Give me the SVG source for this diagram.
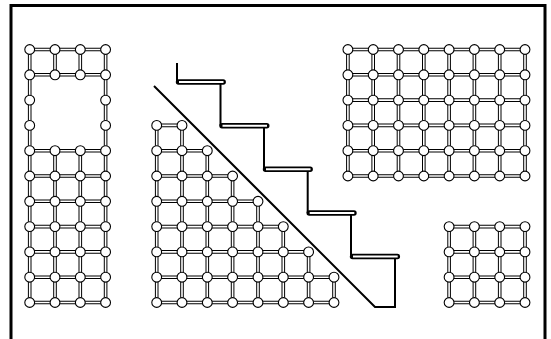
<svg xmlns="http://www.w3.org/2000/svg" width="551" height="339" viewBox="0 0 551 339">
<style>
.o{fill:none;stroke:#000;stroke-width:3.6}
.i{fill:none;stroke:#fff;stroke-width:1.6}
.f{fill:none;stroke:#000;stroke-width:3}
.s{fill:none;stroke:#000;stroke-width:2}
.t{fill:none;stroke:#000;stroke-width:5.4;stroke-linecap:round}
.u{fill:none;stroke:#fff;stroke-width:2}
circle{r:4.9px;fill:#fff;stroke:#000;stroke-width:1.1}
</style>
<defs>
<path id="e1" d="M29.7 49.5H105.6M29.7 74.8H105.6M29.7 150.7H105.6M29.7 176H105.6M29.7 201.3H105.6M29.7 226.6H105.6M29.7 251.9H105.6M29.7 277.2H105.6M29.7 302.5H105.6M29.7 49.5V302.5M105.6 49.5V302.5M55 49.5V74.8M80.3 49.5V74.8M55 150.7V302.5M80.3 150.7V302.5"/>
<path id="e2" d="M156.7 125.4H182M156.7 150.7H207.3M156.7 176H232.6M156.7 201.3H258M156.7 226.6H283.3M156.7 251.9H308.6M156.7 277.2H334M156.7 302.5H334M156.7 125.4V302.5M182 125.4V302.5M207.3 150.7V302.5M232.6 176V302.5M258 201.3V302.5M283.3 226.6V302.5M308.6 251.9V302.5M334 277.2V302.5"/>
<path id="e3" d="M347.9 49.5H525M347.9 74.8H525M347.9 100.1H525M347.9 125.4H525M347.9 150.7H525M347.9 176H525M347.9 49.5V176M373.2 49.5V176M398.5 49.5V176M423.8 49.5V176M449.1 49.5V176M474.4 49.5V176M499.7 49.5V176M525 49.5V176"/>
<path id="e4" d="M449.1 226.6H525M449.1 251.9H525M449.1 277.2H525M449.1 302.5H525M449.1 226.6V302.5M474.4 226.6V302.5M499.7 226.6V302.5M525 226.6V302.5"/>
<g id="r4a"><circle cx="29.7"/><circle cx="55"/><circle cx="80.3"/><circle cx="105.6"/></g>
<g id="r4b"><circle cx="449.1"/><circle cx="474.4"/><circle cx="499.7"/><circle cx="525"/></g>
<g id="r8"><circle cx="347.9"/><circle cx="373.2"/><circle cx="398.5"/><circle cx="423.8"/><circle cx="449.1"/><circle cx="474.4"/><circle cx="499.7"/><circle cx="525"/></g>
</defs>
<g id="frame"><path class="f" d="M11 339V5.5H545V339"/></g>
<g id="connectors">
<use href="#e1" class="o"/><use href="#e1" class="i"/>
<use href="#e2" class="o"/><use href="#e2" class="i"/>
<use href="#e3" class="o"/><use href="#e3" class="i"/>
<use href="#e4" class="o"/><use href="#e4" class="i"/>
</g>
<g id="block-left">
<use href="#r4a" y="49.5"/><use href="#r4a" y="74.8"/>
<circle cx="29.7" cy="100.1"/><circle cx="105.6" cy="100.1"/><circle cx="29.7" cy="125.4"/><circle cx="105.6" cy="125.4"/>
<use href="#r4a" y="150.7"/><use href="#r4a" y="176"/><use href="#r4a" y="201.3"/><use href="#r4a" y="226.6"/><use href="#r4a" y="251.9"/><use href="#r4a" y="277.2"/><use href="#r4a" y="302.5"/>
</g>
<g id="block-stair">
<g transform="translate(0 125.4)"><circle cx="156.7"/><circle cx="182"/></g>
<g transform="translate(0 150.7)"><circle cx="156.7"/><circle cx="182"/><circle cx="207.3"/></g>
<g transform="translate(0 176)"><circle cx="156.7"/><circle cx="182"/><circle cx="207.3"/><circle cx="232.6"/></g>
<g transform="translate(0 201.3)"><circle cx="156.7"/><circle cx="182"/><circle cx="207.3"/><circle cx="232.6"/><circle cx="258"/></g>
<g transform="translate(0 226.6)"><circle cx="156.7"/><circle cx="182"/><circle cx="207.3"/><circle cx="232.6"/><circle cx="258"/><circle cx="283.3"/></g>
<g transform="translate(0 251.9)"><circle cx="156.7"/><circle cx="182"/><circle cx="207.3"/><circle cx="232.6"/><circle cx="258"/><circle cx="283.3"/><circle cx="308.6"/></g>
<g transform="translate(0 277.2)"><circle cx="156.7"/><circle cx="182"/><circle cx="207.3"/><circle cx="232.6"/><circle cx="258"/><circle cx="283.3"/><circle cx="308.6"/><circle cx="334"/></g>
<g transform="translate(0 302.5)"><circle cx="156.7"/><circle cx="182"/><circle cx="207.3"/><circle cx="232.6"/><circle cx="258"/><circle cx="283.3"/><circle cx="308.6"/><circle cx="334"/></g>
</g>
<g id="block-right">
<use href="#r8" y="49.5"/><use href="#r8" y="74.8"/><use href="#r8" y="100.1"/><use href="#r8" y="125.4"/><use href="#r8" y="150.7"/><use href="#r8" y="176"/>
</g>
<g id="block-small">
<use href="#r4b" y="226.6"/><use href="#r4b" y="251.9"/><use href="#r4b" y="277.2"/><use href="#r4b" y="302.5"/>
</g>
<g id="stairs">
<path class="s" d="M177 63V82M220.5 82V125.7M264 125.7V169.3M307.700 169.3V213M351 213V256.5M395 256.5V307H375L154 86"/>
<path class="t" d="M178.500 82H223.200M222 125.700H266.800M265.500 169.300H310.200M309.200 213H354M352.500 256.500H397.400"/>
<path class="u" d="M179 82H223.500M222.500 125.700H267M266 169.300H310.500M309.700 213H354.300M353 256.500H397.700"/>
</g>
</svg>
